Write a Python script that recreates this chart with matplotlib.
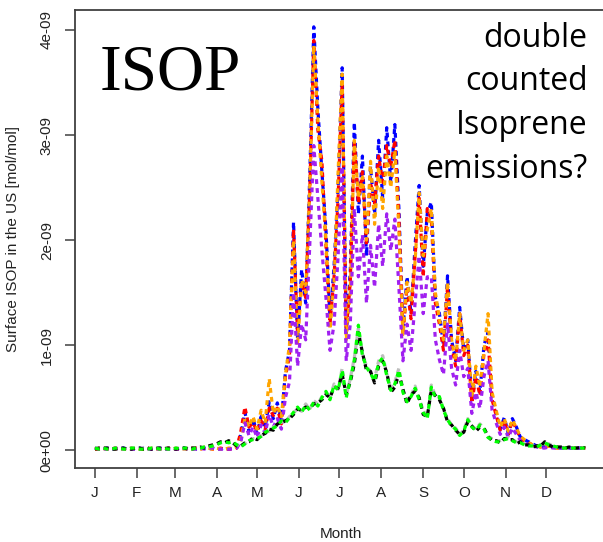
import matplotlib
matplotlib.use("Agg")
import matplotlib.pyplot as plt
from matplotlib.ticker import FuncFormatter
import numpy as np

# surface isoprene over the US, every third day of the year, in units of 1e-9 mol/mol
days = np.arange(1, 365, 3)

isop_blue = [
    0.02, 0.01, 0.01, 0.02, 0.01, 0.01, 0.01, 0.02, 0.01, 0.01,
    0.01, 0.02, 0.01, 0.01, 0.01, 0.01, 0.02, 0.01, 0.01, 0.01,
    0.01, 0.02, 0.02, 0.01, 0.01, 0.01, 0.02, 0.02, 0.01, 0.02,
    0.01, 0.01, 0.02, 0.01, 0.02, 0.03, 0.15, 0.36, 0.18, 0.30,
    0.16, 0.32, 0.22, 0.46, 0.30, 0.45, 0.28, 0.75, 0.95, 2.17,
    1.05, 1.72, 1.40, 2.60, 4.03, 3.25, 2.65, 2.10, 1.25, 1.75,
    2.50, 3.64, 1.10, 1.70, 3.12, 2.25, 2.80, 1.85, 2.70, 2.25,
    2.95, 2.40, 3.07, 2.55, 3.10, 2.30, 1.15, 1.65, 1.30, 1.95,
    2.52, 1.75, 2.25, 2.36, 1.45, 1.30, 1.00, 1.66, 1.05, 0.85,
    1.36, 0.95, 1.05, 0.48, 0.75, 0.55, 1.00, 1.12, 0.50, 0.36,
    0.20, 0.31, 0.16, 0.30, 0.22, 0.12, 0.10, 0.08, 0.06, 0.04,
    0.03, 0.03, 0.05, 0.03, 0.02, 0.02, 0.02, 0.02, 0.02, 0.02,
    0.02, 0.02,
]
isop_red = [
    0.01, 0.01, 0.02, 0.01, 0.01, 0.02, 0.01, 0.01, 0.01, 0.02,
    0.01, 0.01, 0.01, 0.02, 0.01, 0.01, 0.01, 0.01, 0.02, 0.01,
    0.01, 0.01, 0.01, 0.02, 0.01, 0.02, 0.01, 0.02, 0.02, 0.01,
    0.01, 0.02, 0.01, 0.01, 0.01, 0.02, 0.18, 0.41, 0.22, 0.26,
    0.18, 0.28, 0.20, 0.40, 0.33, 0.40, 0.25, 0.70, 0.90, 2.10,
    1.10, 1.60, 1.45, 2.45, 3.90, 3.05, 2.75, 1.95, 1.20, 1.65,
    2.40, 3.50, 1.15, 1.60, 2.95, 2.35, 2.65, 1.95, 2.55, 2.35,
    2.80, 2.55, 2.90, 2.70, 2.95, 2.20, 1.10, 1.55, 1.25, 1.85,
    2.40, 1.65, 2.30, 2.20, 1.40, 1.20, 0.95, 1.55, 1.00, 0.80,
    1.30, 0.90, 1.00, 0.45, 0.70, 0.52, 0.92, 1.05, 0.48, 0.33,
    0.19, 0.28, 0.15, 0.28, 0.20, 0.11, 0.09, 0.07, 0.05, 0.04,
    0.03, 0.03, 0.04, 0.03, 0.02, 0.02, 0.02, 0.02, 0.02, 0.02,
    0.02, 0.02,
]
isop_orange = [
    0.01, 0.02, 0.01, 0.01, 0.02, 0.01, 0.01, 0.01, 0.02, 0.01,
    0.02, 0.01, 0.01, 0.01, 0.02, 0.01, 0.01, 0.02, 0.01, 0.01,
    0.02, 0.01, 0.01, 0.01, 0.02, 0.01, 0.01, 0.03, 0.02, 0.01,
    0.02, 0.01, 0.01, 0.02, 0.02, 0.03, 0.10, 0.30, 0.22, 0.32,
    0.20, 0.38, 0.26, 0.68, 0.35, 0.42, 0.32, 0.72, 1.00, 2.00,
    1.00, 1.62, 1.50, 2.50, 3.85, 3.15, 2.55, 2.00, 1.15, 1.60,
    2.65, 3.58, 1.05, 1.50, 2.95, 2.40, 2.60, 2.00, 2.75, 2.15,
    2.70, 2.30, 2.80, 2.50, 2.85, 2.10, 1.10, 1.60, 1.40, 1.80,
    2.45, 1.85, 2.10, 2.30, 1.50, 1.25, 1.05, 1.60, 1.05, 0.85,
    1.30, 0.95, 1.05, 0.50, 0.80, 0.60, 0.95, 1.30, 0.55, 0.38,
    0.22, 0.30, 0.18, 0.29, 0.21, 0.13, 0.10, 0.07, 0.05, 0.04,
    0.03, 0.03, 0.04, 0.03, 0.02, 0.02, 0.02, 0.02, 0.02, 0.02,
    0.02, 0.02,
]
isop_purple = [
    0.02, 0.01, 0.01, 0.01, 0.01, 0.02, 0.01, 0.01, 0.02, 0.01,
    0.01, 0.01, 0.02, 0.01, 0.01, 0.01, 0.01, 0.02, 0.01, 0.01,
    0.01, 0.01, 0.02, 0.01, 0.01, 0.01, 0.02, 0.01, 0.02, 0.02,
    0.01, 0.01, 0.01, 0.01, 0.01, 0.02, 0.08, 0.26, 0.14, 0.22,
    0.12, 0.24, 0.16, 0.34, 0.22, 0.30, 0.20, 0.50, 0.65, 1.50,
    0.80, 1.20, 1.05, 1.95, 2.90, 2.40, 1.90, 1.45, 0.95, 1.20,
    1.85, 2.70, 0.85, 1.20, 2.30, 1.65, 2.05, 1.40, 1.95, 1.55,
    2.15, 1.75, 2.25, 1.90, 2.20, 1.55, 0.85, 1.20, 0.95, 1.40,
    1.85, 1.30, 1.65, 1.65, 1.05, 0.86, 0.72, 1.20, 0.78, 0.62,
    0.95, 0.70, 0.78, 0.35, 0.55, 0.40, 0.70, 0.85, 0.38, 0.26,
    0.15, 0.22, 0.12, 0.21, 0.15, 0.09, 0.07, 0.05, 0.04, 0.03,
    0.02, 0.02, 0.03, 0.02, 0.02, 0.02, 0.02, 0.02, 0.02, 0.02,
    0.02, 0.02,
]
isop_grey = [
    0.02, 0.02, 0.01, 0.02, 0.02, 0.01, 0.02, 0.01, 0.02, 0.02,
    0.01, 0.02, 0.02, 0.01, 0.02, 0.01, 0.02, 0.02, 0.02, 0.01,
    0.02, 0.02, 0.01, 0.02, 0.02, 0.01, 0.02, 0.03, 0.03, 0.04,
    0.06, 0.07, 0.08, 0.08, 0.07, 0.05, 0.04, 0.06, 0.09, 0.11,
    0.11, 0.14, 0.17, 0.18, 0.22, 0.24, 0.27, 0.27, 0.32, 0.35,
    0.40, 0.37, 0.44, 0.39, 0.47, 0.44, 0.51, 0.55, 0.50, 0.63,
    0.58, 0.78, 0.52, 0.68, 0.88, 1.16, 0.92, 0.80, 0.75, 0.68,
    0.85, 0.90, 0.73, 0.58, 0.65, 0.78, 0.57, 0.48, 0.52, 0.61,
    0.49, 0.38, 0.31, 0.62, 0.52, 0.50, 0.39, 0.30, 0.24, 0.21,
    0.15, 0.19, 0.30, 0.23, 0.20, 0.25, 0.21, 0.13, 0.11, 0.09,
    0.09, 0.11, 0.12, 0.10, 0.08, 0.07, 0.06, 0.05, 0.04, 0.04,
    0.05, 0.07, 0.06, 0.04, 0.03, 0.02, 0.02, 0.02, 0.02, 0.02,
    0.02, 0.02,
]
isop_black = [
    0.01, 0.02, 0.02, 0.02, 0.01, 0.01, 0.02, 0.02, 0.01, 0.01,
    0.02, 0.02, 0.01, 0.02, 0.01, 0.02, 0.02, 0.01, 0.02, 0.02,
    0.01, 0.02, 0.02, 0.01, 0.02, 0.02, 0.03, 0.02, 0.04, 0.05,
    0.06, 0.08, 0.07, 0.09, 0.07, 0.04, 0.04, 0.07, 0.08, 0.12,
    0.10, 0.14, 0.16, 0.20, 0.19, 0.25, 0.26, 0.28, 0.30, 0.34,
    0.39, 0.38, 0.41, 0.40, 0.44, 0.45, 0.48, 0.53, 0.50, 0.60,
    0.59, 0.72, 0.53, 0.65, 0.82, 1.12, 0.93, 0.76, 0.75, 0.64,
    0.80, 0.85, 0.74, 0.55, 0.60, 0.73, 0.58, 0.44, 0.53, 0.56,
    0.50, 0.34, 0.32, 0.57, 0.52, 0.48, 0.40, 0.27, 0.24, 0.19,
    0.15, 0.17, 0.27, 0.23, 0.18, 0.22, 0.21, 0.13, 0.09, 0.09,
    0.07, 0.11, 0.10, 0.10, 0.06, 0.08, 0.05, 0.05, 0.03, 0.04,
    0.04, 0.08, 0.05, 0.03, 0.03, 0.03, 0.02, 0.03, 0.02, 0.02,
    0.03, 0.02,
]
isop_green = [
    0.02, 0.01, 0.02, 0.01, 0.01, 0.02, 0.02, 0.01, 0.01, 0.02,
    0.02, 0.01, 0.01, 0.01, 0.02, 0.02, 0.01, 0.02, 0.01, 0.01,
    0.02, 0.01, 0.02, 0.02, 0.01, 0.02, 0.02, 0.03, 0.03, 0.04,
    0.05, 0.07, 0.08, 0.07, 0.08, 0.05, 0.03, 0.06, 0.09, 0.10,
    0.11, 0.13, 0.17, 0.19, 0.21, 0.23, 0.28, 0.26, 0.31, 0.36,
    0.41, 0.36, 0.43, 0.38, 0.46, 0.42, 0.50, 0.56, 0.48, 0.62,
    0.57, 0.76, 0.50, 0.67, 0.86, 1.19, 0.90, 0.79, 0.73, 0.66,
    0.83, 0.88, 0.71, 0.57, 0.63, 0.76, 0.55, 0.46, 0.51, 0.59,
    0.48, 0.36, 0.30, 0.60, 0.50, 0.51, 0.38, 0.29, 0.23, 0.20,
    0.14, 0.18, 0.29, 0.22, 0.19, 0.24, 0.20, 0.12, 0.10, 0.08,
    0.08, 0.10, 0.11, 0.09, 0.07, 0.07, 0.05, 0.04, 0.04, 0.03,
    0.05, 0.07, 0.05, 0.04, 0.03, 0.02, 0.02, 0.02, 0.02, 0.02,
    0.02, 0.02,
]

month_days = [1, 32, 60, 91, 121, 152, 182, 213, 244, 274, 305, 335]
month_labels = ["J", "F", "M", "A", "M", "J", "J", "A", "S", "O", "N", "D"]
y_ticks = [0, 1, 2, 3, 4]
note_lines = ["double", "counted", "Isoprene", "emissions?"]

series = [
    (isop_blue, "#0000FF"),
    (isop_red, "#FF0000"),
    (isop_orange, "#FFA500"),
    (isop_purple, "#A020F0"),
    (isop_grey, "#BEBEBE"),
    (isop_black, "#000000"),
    (isop_green, "#00FF00"),
]

plt.rcParams["font.family"] = ["Liberation Sans", "DejaVu Sans"]

fig = plt.figure(figsize=(6.03, 5.42), dpi=100)
# the frame runs off the right edge of the canvas
ax = fig.add_axes([0.1249, 0.1365, 0.8806, 0.845])

for values, color in series:
    ax.plot(days, values, color=color, lw=2.3, linestyle=(0, (1.5, 1.3)),
            dash_capstyle="butt")

ax.set_xlim(-13.56, 379.56)
ax.set_ylim(-0.17, 4.19)

ax.set_xticks(month_days)
ax.set_xticklabels(month_labels)
ax.set_yticks(y_ticks)
ax.yaxis.set_major_formatter(FuncFormatter(lambda v, pos: "{:.0e}".format(v * 1e-9)))

frame_color = "#404040"
for side in ax.spines.values():
    side.set_color(frame_color)
    side.set_linewidth(1.3)
ax.tick_params(axis="both", length=7, width=1.1, color=frame_color,
               labelsize=11, labelcolor="#222222")
ax.tick_params(axis="x", pad=6)
ax.tick_params(axis="y", pad=8.5)
plt.setp(ax.get_yticklabels(), rotation=90, va="center", ha="right")

ax.set_xlabel("Month", fontsize=11, color="#222222")
ax.set_ylabel("Surface ISOP in the US [mol/mol]", fontsize=11, color="#222222")
ax.xaxis.set_label_coords(0.5, -0.143)
ax.xaxis.label.set_va("center")
ax.yaxis.set_label_coords(-0.118, 0.5)
ax.yaxis.label.set_va("center")

fig.text(100 / 603, 1 - 89 / 542, "ISOP", family="Liberation Serif",
         fontsize=47, va="baseline", ha="left")

for k, line in enumerate(note_lines):
    fig.text(587.7 / 603, 1 - (46.7 + 43.8 * k) / 542, line, family="Open Sans",
             fontsize=23, va="baseline", ha="right")

fig.savefig("out.png", dpi=100)
